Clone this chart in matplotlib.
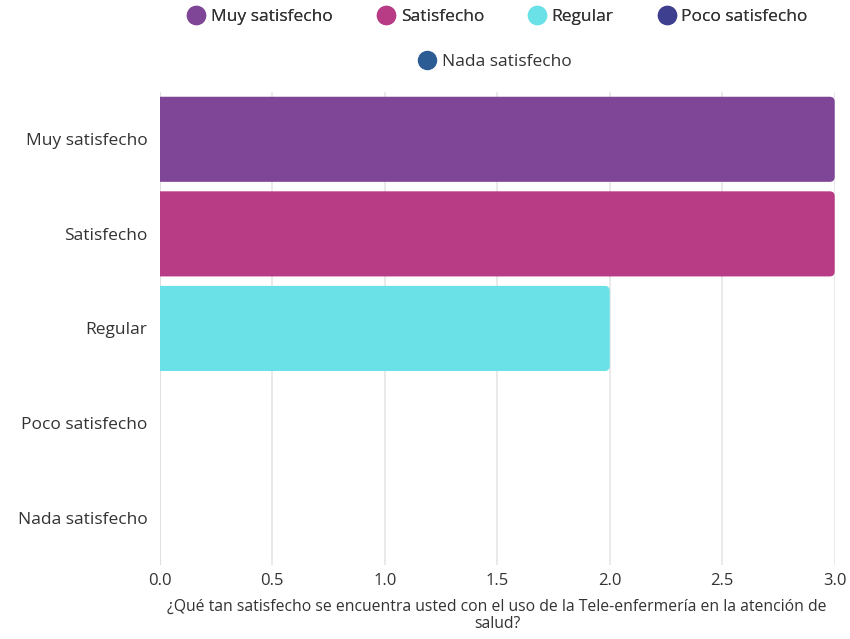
import matplotlib
matplotlib.use("Agg")
import matplotlib.pyplot as plt
from matplotlib.patches import FancyBboxPatch
from matplotlib.lines import Line2D

plt.rcParams['font.family'] = ['Open Sans', 'DejaVu Sans']

categories = ["Muy satisfecho", "Satisfecho", "Regular", "Poco satisfecho", "Nada satisfecho"]
values = [3, 3, 2, 0, 0]
colors = ["#7F4596", "#B83B86", "#6AE1E6", "#3F3F8F", "#2C5C94"]
xlabel = "¿Qué tan satisfecho se encuentra usted con el uso de la Tele-enfermería en la atención de\nsalud?"
xticks = [0.0, 0.5, 1.0, 1.5, 2.0, 2.5, 3.0]

fig = plt.figure(figsize=(8.5, 6.39), dpi=100)
ax = fig.add_axes([0.188, 0.116, 0.794, 0.740])

ypos = list(range(len(categories)))
bars = ax.barh(ypos, values, height=0.9, color=colors)
for b, c in zip(bars, colors):
    b.set_visible(False)
    x0, y0 = b.get_x(), b.get_y()
    w, h = b.get_width(), b.get_height()
    if w <= 0:
        continue
    p = FancyBboxPatch((x0 - 0.05, y0), w + 0.05, h,
                       boxstyle="round,pad=0,rounding_size=0.022",
                       mutation_aspect=2.4, facecolor=c, edgecolor="none",
                       clip_on=True, zorder=2)
    ax.add_patch(p)

ax.set_xlim(0, 3.0)
ax.set_ylim(len(categories) - 0.5, -0.5)
ax.set_yticks(ypos)
ax.set_yticklabels(categories, fontsize=12.5, color="#333333")
ax.set_xticks(xticks)
ax.set_xticklabels([f"{t:.1f}" for t in xticks], fontsize=12, color="#333333")
ax.tick_params(axis='both', length=0, pad=6)
ax.tick_params(axis='y', pad=9)
for s in ax.spines.values():
    s.set_visible(False)
ax.axvline(0, color="#dddddd", lw=1.2, zorder=1)
ax.grid(axis='x', color="#e6e6e6", lw=1.2, zorder=0)
ax.set_axisbelow(True)
ax.set_xlabel(xlabel, fontsize=11.3, color="#333333", labelpad=7, linespacing=1.1)

handles = [Line2D([0], [0], marker='o', linestyle='none', markersize=13,
                  markerfacecolor=c, markeredgecolor=c) for c in colors]
leg1 = fig.legend(handles[:4], categories[:4], loc='center', bbox_to_anchor=(0.585, 0.973),
                  ncol=4, frameon=False, fontsize=12.5, handletextpad=0.3, columnspacing=2.5,
                  handlelength=1.1, labelcolor="#333333")
leg2 = fig.legend(handles[4:], categories[4:], loc='center', bbox_to_anchor=(0.582, 0.903),
                  ncol=1, frameon=False, fontsize=12.5, handletextpad=0.3, handlelength=1.1,
                  labelcolor="#333333")
fig.add_artist(leg1)

fig.savefig("out.png", dpi=100)
